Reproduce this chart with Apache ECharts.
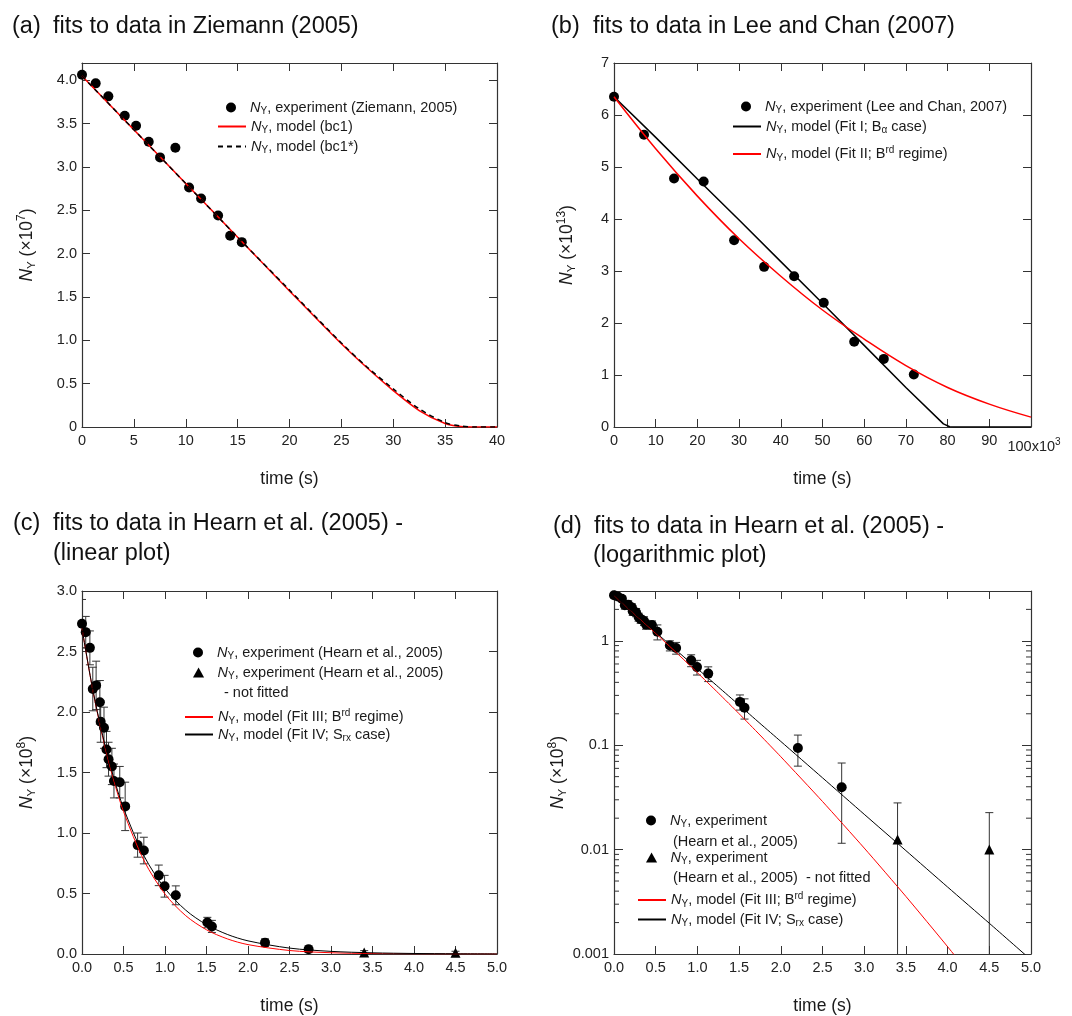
<!DOCTYPE html>
<html><head><meta charset="utf-8">
<script src="https://cdn.jsdelivr.net/npm/echarts@6/dist/echarts.min.js"></script>
<style>html,body{margin:0;padding:0;background:#fff}#c{width:1072px;height:1016px}</style>
</head><body><div id="c"></div>
<script>
// ---------- Panel (a): Ziemann (2005) ----------
const aExpT = [0, 1.32, 2.54, 4.12, 5.21, 6.43, 7.52, 9.0, 10.32, 11.48, 13.12, 14.28, 15.4];
const aExpN = [4.065, 3.965, 3.815, 3.592, 3.476, 3.292, 3.111, 3.222, 2.764, 2.637, 2.441, 2.206, 2.133];
const aModT = [0, 5, 10, 15, 20, 25, 27.5, 30, 32.5, 35, 36.5, 38, 40];
const aBc1N = [4.05, 3.43, 2.81, 2.19, 1.57, 0.96, 0.68, 0.42, 0.19, 0.04, 0.005, 0, 0];
const aBc1sN = [4.05, 3.43, 2.81, 2.19, 1.58, 0.97, 0.69, 0.44, 0.21, 0.05, 0.012, 0, 0];
const aXTicks = { min: 0, max: 40, interval: 5 };
const aYTicks = { min: 0, max: 4.2, interval: 0.5 };

// ---------- Panel (b): Lee and Chan (2007) ----------
const bExpT = [0, 7.2, 14.4, 21.5, 28.8, 36.0, 43.2, 50.3, 57.6, 64.7, 71.9];
const bExpN = [6.35, 5.62, 4.78, 4.72, 3.59, 3.08, 2.90, 2.39, 1.64, 1.31, 1.01];
const bFit1T = [0, 10, 20, 30, 40, 50, 60, 70, 79, 80.5, 81.5, 100];
const bFit1N = [6.35, 5.57, 4.77, 3.98, 3.18, 2.38, 1.57, 0.76, 0.06, 0.005, 0, 0];
const bFit2T = [0, 10, 20, 30, 40, 50, 60, 70, 80, 90, 100];
const bFit2N = [6.35, 5.35, 4.44, 3.62, 2.90, 2.25, 1.69, 1.18, 0.76, 0.44, 0.19];
const bXTicks = { min: 0, max: 100, interval: 10 };
const bYTicks = { min: 0, max: 7, interval: 1 };

// ---------- Panels (c),(d): Hearn et al. (2005) ----------
const hT   = [0.00, 0.045, 0.095, 0.13, 0.17, 0.215, 0.225, 0.265, 0.295, 0.32, 0.36, 0.385, 0.455, 0.52, 0.67, 0.745, 0.925, 0.995, 1.13, 1.51, 1.565, 2.205, 2.73];
const hN   = [2.73, 2.66, 2.53, 2.19, 2.22, 2.08, 1.92, 1.87, 1.69, 1.61, 1.55, 1.43, 1.42, 1.22, 0.90, 0.855, 0.65, 0.56, 0.485, 0.26, 0.228, 0.094, 0.0395];
const hErr = [0.20, 0.13, 0.14, 0.18, 0.20, 0.18, 0.17, 0.17, 0.15, 0.14, 0.15, 0.14, 0.13, 0.20, 0.10, 0.11, 0.085, 0.09, 0.078, 0.043, 0.05, 0.031, 0.028];
const nfT   = [3.40, 4.50];
const nfN   = [0.0125, 0.0100];
const nfErr = [0.0155, 0.0126];
const fitT    = [0, 0.125, 0.25, 0.375, 0.5, 0.75, 1.0, 1.25, 1.5, 1.75, 2.0, 2.5, 3.0, 3.5, 4.0, 4.5, 5.0];
const fit3N   = [2.69, 2.198, 1.789, 1.454, 1.178, 0.768, 0.495, 0.3165, 0.2001, 0.1252, 0.0776, 0.0289, 0.01035, 0.00356, 0.001175, 0.000372, 0.000114];
const fit4N   = [2.69, 2.203, 1.803, 1.475, 1.206, 0.807, 0.541, 0.362, 0.2424, 0.162, 0.1087, 0.0487, 0.0218, 0.00978, 0.00438, 0.00197, 0.00088];
const cXTicks = { min: 0, max: 5, interval: 0.5 };
const cYTicks = { min: 0, max: 3, interval: 0.5 };
const dYRange = { min: 0.001, max: 3 };
const dMinorTicks = [0.002,0.003,0.004,0.005,0.006,0.007,0.008,0.009,0.02,0.03,0.04,0.05,0.06,0.07,0.08,0.09,0.2,0.3,0.4,0.5,0.6,0.7,0.8,0.9,2];

// ---------- helpers ----------
const FONT = 'Liberation Sans, Arial, Helvetica, sans-serif';
const pairs = (xs, ys) => xs.map((x, i) => [x, ys[i]]);
const AX = '#333', TXT = '#1a1a1a';
const richSmall = {
  i: { fontStyle: 'italic', fontSize: 14.5, lineHeight: 18, fontFamily: FONT, color: TXT },
  t: { fontSize: 14.5, lineHeight: 18, fontFamily: FONT, color: TXT },
  s: { fontSize: 10, lineHeight: 10, verticalAlign: 'bottom', fontFamily: FONT, color: TXT },
  p: { fontSize: 10, lineHeight: 10, verticalAlign: 'top', fontFamily: FONT, color: TXT }
};
const richName = {
  i: { fontStyle: 'italic', fontSize: 17.5, lineHeight: 22, fontFamily: FONT, color: TXT },
  t: { fontSize: 17.5, lineHeight: 22, fontFamily: FONT, color: TXT },
  s: { fontSize: 11.5, lineHeight: 11, verticalAlign: 'bottom', fontFamily: FONT, color: TXT },
  p: { fontSize: 12, lineHeight: 11, verticalAlign: 'top', fontFamily: FONT, color: TXT }
};

const grids = [
  { left: 82, top: 63, width: 415, height: 364 },
  { left: 614, top: 63, width: 417, height: 364 },
  { left: 82, top: 591, width: 415, height: 363 },
  { left: 614, top: 591, width: 417, height: 363 }
].map(g => Object.assign({ outerBoundsMode: 'none', containLabel: false }, g));

function axisBase(gridIndex, position, showLabel, tickLen) {
  return {
    gridIndex, position,
    axisLine: { show: true, onZero: false, lineStyle: { color: AX, width: 1.2 } },
    axisTick: { show: true, inside: true, length: tickLen || 8, lineStyle: { color: AX, width: 1 } },
    splitLine: { show: false },
    minorTick: { show: false },
    axisLabel: { show: showLabel, color: '#222', fontSize: 14.5, fontFamily: FONT, margin: position === 'bottom' ? 6 : 5 }
  };
}
function valAxis(gridIndex, position, ticks, showLabel, fmt, extra) {
  const a = axisBase(gridIndex, position, showLabel);
  Object.assign(a, { type: 'value', min: ticks.min, max: ticks.max, interval: ticks.interval });
  a.axisLabel.formatter = function (v) {
    const k = v / ticks.interval;
    if (Math.abs(k - Math.round(k)) > 1e-6) return '';
    return fmt(v);
  };
  return Object.assign(a, extra || {});
}
const int0 = v => String(Math.round(v));
const fix1 = v => v.toFixed(1);
const aYfmt = v => (v === 0 ? '0' : v.toFixed(1));

const xName = { name: 'time (s)', nameLocation: 'middle', nameGap: 43, nameTextStyle: { fontSize: 17.5, fontFamily: FONT, color: TXT } };
function yName(exp, gap) {
  return { name: '{i|N}{s|Y}{t| (×10}{p|' + exp + '}{t|)}', nameLocation: 'middle', nameRotate: 90, nameGap: gap,
    nameTextStyle: { fontSize: 17.5, fontFamily: FONT, color: TXT, rich: richName } };
}

// axis index for panel p: bottom/left = 2p, top/right = 2p+1
const xAxes = [
  valAxis(0, 'bottom', aXTicks, true, int0, xName),
  valAxis(0, 'top', aXTicks, false, int0),
  valAxis(1, 'bottom', bXTicks, true, v => (Math.round(v) === 100 ? '{h|100x10}{hp|3}' : int0(v)), xName),
  valAxis(1, 'top', bXTicks, false, int0),
  valAxis(2, 'bottom', cXTicks, true, fix1, xName),
  valAxis(2, 'top', cXTicks, false, fix1),
  valAxis(3, 'bottom', cXTicks, true, fix1, xName),
  valAxis(3, 'top', cXTicks, false, fix1)
];
xAxes[2].axisLabel.rich = {
  h: { fontSize: 14.5, fontFamily: FONT, color: '#222', padding: [6, 0, 0, 6] },
  hp: { fontSize: 10, fontFamily: FONT, color: '#222', verticalAlign: 'top', padding: [4, 0, 0, 0] }
};

function logAxis(gridIndex, position, showLabel) {
  const a = axisBase(gridIndex, position, showLabel, 9);
  Object.assign(a, { type: 'log', logBase: 10, min: dYRange.min, max: dYRange.max });
  a.axisLabel.formatter = function (v) {
    const l = Math.log10(v);
    if (Math.abs(l - Math.round(l)) > 1e-6) return '';
    return String(+Math.pow(10, Math.round(l)).toPrecision(3));
  };
  return a;
}

const yAxes = [
  valAxis(0, 'left', aYTicks, true, aYfmt, yName('7', 44)),
  valAxis(0, 'right', aYTicks, false, aYfmt),
  valAxis(1, 'left', bYTicks, true, int0, yName('13', 36)),
  valAxis(1, 'right', bYTicks, false, int0),
  valAxis(2, 'left', cYTicks, true, fix1, yName('8', 44)),
  valAxis(2, 'right', cYTicks, false, fix1),
  Object.assign(logAxis(3, 'left', true), yName('8', 36)),
  logAxis(3, 'right', false)
];

// error bars through the axes' own scales
function errRender(params, api) {
  const cs = params.coordSys;
  const x = api.value(0), lo = api.value(1), hi = api.value(2);
  const t = api.coord([x, hi]), b = api.coord([x, lo]);
  const px = t[0];
  const yTop = cs.y, yBot = cs.y + cs.height;
  const y1 = isFinite(t[1]) ? Math.max(t[1], yTop) : yTop;
  const y2 = isFinite(b[1]) ? Math.min(b[1], yBot) : yBot;
  const st = { stroke: '#333', lineWidth: 1 };
  const ch = [{ type: 'line', shape: { x1: px, y1: y1, x2: px, y2: y2 }, style: st }];
  if (isFinite(t[1]) && t[1] >= yTop) ch.push({ type: 'line', shape: { x1: px - 4, y1: t[1], x2: px + 4, y2: t[1] }, style: st });
  if (isFinite(b[1]) && b[1] <= yBot) ch.push({ type: 'line', shape: { x1: px - 4, y1: b[1], x2: px + 4, y2: b[1] }, style: st });
  return { type: 'group', children: ch };
}
function minorRender(params, api) {
  const cs = params.coordSys;
  const y = api.coord([api.value(0), api.value(1)])[1];
  const st = { stroke: AX, lineWidth: 1 };
  return { type: 'group', children: [
    { type: 'line', shape: { x1: cs.x, y1: y, x2: cs.x + 5, y2: y }, style: st },
    { type: 'line', shape: { x1: cs.x + cs.width - 5, y1: y, x2: cs.x + cs.width, y2: y }, style: st }
  ] };
}
const errLin = (ts, ns, es) => ts.map((t, i) => [t, ns[i] - es[i], ns[i] + es[i]]);
const errLog = (ts, ns, es) => ts.map((t, i) => [t, Math.max(ns[i] - es[i], 1e-6), ns[i] + es[i]]);

function scatter(name, p, data, symbol) {
  return { name, type: 'scatter', xAxisIndex: 2 * p, yAxisIndex: 2 * p, data, symbol: symbol || 'circle', symbolSize: 10,
    symbolKeepAspect: true, itemStyle: { color: '#000', opacity: 1 }, z: 3, silent: true };
}
function line(name, p, data, color, width, smooth, dashed) {
  return { name, type: 'line', xAxisIndex: 2 * p, yAxisIndex: 2 * p, data, symbol: 'none', showSymbol: false,
    smooth: smooth, color: color, lineStyle: { color, width, type: dashed ? [5, 4] : 'solid' },
    itemStyle: { color }, z: dashed ? 5 : 4, silent: true, clip: true };
}
function errSeries(p, data) {
  return { type: 'custom', xAxisIndex: 2 * p, yAxisIndex: 2 * p, data, renderItem: errRender, encode: { x: 0, y: [1, 2] }, z: 2, silent: true, clip: true };
}

const series = [
  line('a_bc1', 0, pairs(aModT, aBc1N), '#ff0000', 1.5, 0.3, false),
  line('a_bc1s', 0, pairs(aModT, aBc1sN), '#000', 1.5, 0.3, true),
  scatter('a_exp', 0, pairs(aExpT, aExpN)),

  scatter('b_exp', 1, pairs(bExpT, bExpN)),
  line('b_fit1', 1, pairs(bFit1T, bFit1N), '#000', 1.5, false, false),
  line('b_fit2', 1, pairs(bFit2T, bFit2N), '#ff0000', 1.5, 0.4, false),

  errSeries(2, errLin(hT, hN, hErr)),
  errSeries(2, errLin(nfT, nfN, nfErr)),
  scatter('c_exp', 2, pairs(hT, hN)),
  scatter('c_nf', 2, pairs(nfT, nfN), 'triangle'),
  line('c_fit3', 2, pairs(fitT, fit3N), '#ff0000', 1, 0.3, false),
  line('c_fit4', 2, pairs(fitT, fit4N), '#000', 1, 0.3, false),

  errSeries(3, errLog(hT, hN, hErr)),
  errSeries(3, errLog(nfT, nfN, nfErr)),
  scatter('d_exp', 3, pairs(hT, hN)),
  scatter('d_nf', 3, pairs(nfT, nfN), 'triangle'),
  line('d_fit3', 3, pairs(fitT, fit3N), '#ff0000', 1, 0.2, false),
  line('d_fit4', 3, pairs(fitT, fit4N), '#000', 1, 0.2, false),
  { type: 'custom', xAxisIndex: 6, yAxisIndex: 6, data: dMinorTicks.map(v => [0.5, v]), renderItem: minorRender,
    encode: { x: 0, y: 1 }, z: 6, silent: true }
];

const legendText = {
  a_exp: '{i|N}{s|Y}{t|, experiment (Ziemann, 2005)}',
  a_bc1: '{i|N}{s|Y}{t|, model (bc1)}',
  a_bc1s: '{i|N}{s|Y}{t|, model (bc1*)}',
  b_exp: '{i|N}{s|Y}{t|, experiment (Lee and Chan, 2007)}',
  b_fit1: '{i|N}{s|Y}{t|, model (Fit I; B}{s|α}{t| case)}',
  b_fit2: '{i|N}{s|Y}{t|, model (Fit II; B}{p|rd}{t| regime)}',
  c_exp: '{i|N}{s|Y}{t|, experiment (Hearn et al., 2005)}',
  c_nf: '{i|N}{s|Y}{t|, experiment (Hearn et al., 2005)}',
  c_fit3: '{i|N}{s|Y}{t|, model (Fit III; B}{p|rd}{t| regime)}',
  c_fit4: '{i|N}{s|Y}{t|, model (Fit IV; S}{s|rx}{t| case)}',
  d_exp: '{i|N}{s|Y}{t|, experiment}',
  d_nf: '{i|N}{s|Y}{t|, experiment}',
  d_fit3: '{i|N}{s|Y}{t|, model (Fit III; B}{p|rd}{t| regime)}',
  d_fit4: '{i|N}{s|Y}{t|, model (Fit IV; S}{s|rx}{t| case)}'
};
const TRI = 'path://M5,0 L10,9 L0,9 Z';
// [series name, legend left, row centre y, marker icon or null for lines]
const legendRows = [
  ['a_exp', 226, 109, 'circle'], ['a_bc1', 217, 128, null], ['a_bc1s', 217, 148, null],
  ['b_exp', 741, 108, 'circle'], ['b_fit1', 732, 128, null], ['b_fit2', 732, 154, null],
  ['c_exp', 193, 654, 'circle'], ['c_nf', 193, 674, TRI], ['c_fit3', 184, 717, null], ['c_fit4', 184, 736, null],
  ['d_exp', 646, 822, 'circle'], ['d_nf', 646, 859, TRI], ['d_fit3', 637, 900, null], ['d_fit4', 637, 921, null]
];
const legends = legendRows.map(([n, left, cy, icon]) => {
  const lg = {
    left, top: cy - 9, orient: 'vertical', itemWidth: 28, itemHeight: 10, itemGap: 0, padding: 0,
    selectedMode: false, symbolKeepAspect: true, formatter: name => legendText[name],
    textStyle: { fontSize: 14.5, fontFamily: FONT, color: TXT, rich: richSmall }
  };
  if (icon) {
    lg.data = [{ name: n, icon: icon, itemStyle: { color: '#000', opacity: 1 } }];
  } else {
    lg.data = [n];
    lg.itemStyle = { color: 'rgba(0,0,0,0)', borderColor: 'rgba(0,0,0,0)', borderWidth: 0, opacity: 0 };
  }
  return lg;
});

const TS = { fontSize: 23.5, fontWeight: 'normal', fontFamily: FONT, color: '#111' };
const titles = [
  ['(a)', 12, 15], ['fits to data in Ziemann (2005)', 53, 15],
  ['(b)', 551, 15], ['fits to data in Lee and Chan (2007)', 593, 15],
  ['(c)', 13, 512], ['fits to data in Hearn et al. (2005) -', 53, 512], ['(linear plot)', 53, 542],
  ['(d)', 553, 515], ['fits to data in Hearn et al. (2005) -', 594, 515], ['(logarithmic plot)', 593, 544]
].map(([text, left, top]) => ({ text, left, top, padding: 0, textStyle: TS }));

const gtext = (text, x, cy) => ({ type: 'text', left: x, top: cy - 8, silent: true,
  style: { text, fontSize: 14.5, fontFamily: FONT, fill: TXT } });

const chart = echarts.init(document.getElementById('c'), null, { renderer: 'canvas' });
chart.setOption({
  animation: false,
  backgroundColor: '#fff',
  textStyle: { fontFamily: FONT },
  title: titles,
  grid: grids,
  xAxis: xAxes,
  yAxis: yAxes,
  legend: legends,
  series,
  graphic: [
    gtext('- not fitted', 224, 693),
    gtext('(Hearn et al., 2005)', 673, 842),
    gtext('(Hearn et al., 2005)  - not fitted', 673, 878)
  ]
});
</script></body></html>
